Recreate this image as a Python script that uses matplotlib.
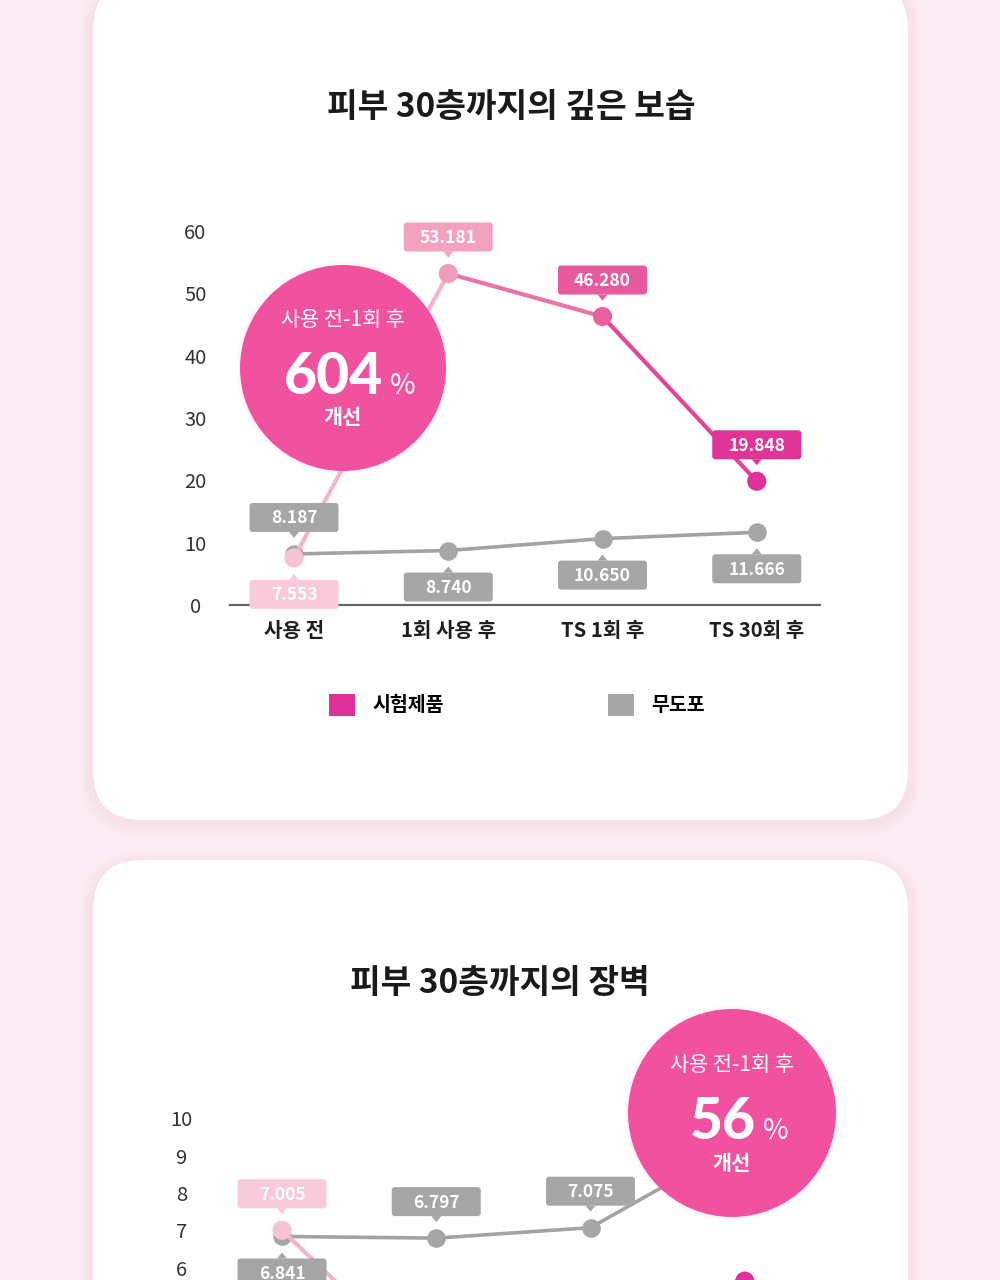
import numpy as np
import matplotlib.pyplot as plt
from matplotlib.patches import FancyBboxPatch, Circle, Polygon, Patch
from matplotlib.collections import LineCollection
from matplotlib.transforms import IdentityTransform

plt.rcParams['font.family'] = ['Noto Sans CJK KR', 'DejaVu Sans']

# data
categories      = ['사용 전', '1회 사용 후', 'TS 1회 후', 'TS 30회 후']
moist_product   = [7.553, 53.181, 46.280, 19.848]
moist_control   = [8.187, 8.740, 10.650, 11.666]
moist_yticks    = [0, 10, 20, 30, 40, 50, 60]
barrier_product = [7.005, 3.08, 4.2, 5.65]     # only first point fully visible
barrier_control = [6.841, 6.797, 7.075, 9.4]
barrier_yticks  = [0, 1, 2, 3, 4, 5, 6, 7, 8, 9, 10]
legend_labels   = ['시험제품', '무도포']

# label side: +1 above the point, -1 below
moist_prod_side   = [-1, 1, 1, 1]
moist_ctrl_side   = [1, -1, -1, -1]
barrier_prod_side = [1, -1, -1, -1]
barrier_ctrl_side = [-1, 1, 1, 1]

# styles
bg_color       = '#fcecf3'
point_colors   = ['#f6c4d4', '#ef9dbb', '#e8609f', '#e0309a']
box_colors     = ['#f9cada', '#f2a2bf', '#e75a9e', '#e03597']
segment_colors = ['#f3b4ca', '#ea74a8', '#e3449a']
gray           = '#a6a6a6'
badge_color    = '#f1529f'

W, H = 1000, 1280
fig = plt.figure(figsize=(W / 100, H / 100), dpi=100)
fig.patch.set_facecolor(bg_color)


def px_axes(left, top, right, bottom, z):
    return fig.add_axes([left / W, 1 - bottom / H, (right - left) / W, (bottom - top) / H], zorder=z)


bg = fig.add_axes([0, 0, 1, 1], zorder=0)
bg.set_xlim(0, W)
bg.set_ylim(H, 0)
bg.axis('off')

fg = fig.add_axes([0, 0, 1, 1], zorder=5)
fg.set_xlim(0, W)
fg.set_ylim(H, 0)
fg.axis('off')
fg.patch.set_alpha(0)

# cards with soft shadow
for top, bottom in [(-20, 820), (860, 1340)]:
    for k in range(6, 0, -1):
        bg.add_patch(FancyBboxPatch((93 - k * 2, top - k * 2 + 4), 815 + k * 4, bottom - top + k * 4,
                                    boxstyle='round,pad=0,rounding_size=%d' % (50 + k * 2),
                                    fc='#f3c9da', ec='none', alpha=0.05))
    bg.add_patch(FancyBboxPatch((93, top), 815, bottom - top,
                                boxstyle='round,pad=0,rounding_size=50', fc='white', ec='none'))


def callout(ax, x, y, text, fc, side):
    px, py = ax.transData.transform((x, y))
    w, h, gap = 89, 29, 22
    if side > 0:
        y0 = py + gap
        edge, tip = y0, y0 - 6
    else:
        y0 = py - gap - h
        edge, tip = y0 + h, y0 + h + 6
    idt = IdentityTransform()
    ax.add_patch(FancyBboxPatch((px - w / 2, y0), w, h, boxstyle='round,pad=0,rounding_size=3',
                                fc=fc, ec='none', transform=idt, clip_on=False, zorder=6))
    ax.add_patch(Polygon([(px - 5, edge), (px + 5, edge), (px, tip)], closed=True,
                         fc=fc, ec='none', transform=idt, clip_on=False, zorder=6))
    ax.text(px, y0 + h / 2 - 1, text, transform=idt, ha='center', va='center',
            color='white', fontsize=12.5, fontweight='bold', zorder=7)


def draw_chart(ax, product, control, yticks, prod_side, ctrl_side, pad):
    x = np.arange(len(categories))
    ax.set_xlim(-0.415, 3.41)
    ax.set_ylim(yticks[0], yticks[-1])
    ax.patch.set_alpha(0)

    ax.plot(x, control, color='#a3a3a3', lw=2.6, zorder=3, clip_on=False)
    ax.scatter(x, control, s=180, color=gray, zorder=3, clip_on=False, linewidths=0)

    pts = np.column_stack([x, product])
    segs = [pts[i:i + 2] for i in range(len(pts) - 1)]
    ax.add_collection(LineCollection(segs, colors=segment_colors, linewidths=3,
                                     zorder=4, clip_on=False, capstyle='round'))
    ax.scatter(x, product, s=190, c=point_colors, zorder=5, clip_on=False, linewidths=0)

    for i in x:
        callout(ax, i, control[i], '%.3f' % control[i], gray, ctrl_side[i])
        callout(ax, i, product[i], '%.3f' % product[i], box_colors[i], prod_side[i])

    ax.set_yticks(yticks)
    ax.set_yticklabels([str(t) for t in yticks], ha='center', fontsize=14.5, color='#333333')
    ax.set_xticks(x)
    ax.set_xticklabels(categories, fontsize=14.5, color='#1e1e1e', fontweight='bold')
    ax.tick_params(axis='y', length=0, pad=pad)
    ax.tick_params(axis='x', length=0, pad=11)
    for s in ['top', 'right', 'left']:
        ax.spines[s].set_visible(False)
    ax.spines['bottom'].set_color('#666666')
    ax.spines['bottom'].set_linewidth(1.6)
    ax.spines['bottom'].set_zorder(2)


# chart 1: 깊은 보습
ax1 = px_axes(230, 231, 820, 605, 2)
draw_chart(ax1, moist_product, moist_control, moist_yticks, moist_prod_side, moist_ctrl_side, 25)

# chart 2: 장벽
ax2 = px_axes(218, 1118, 808, 1493, 2)
draw_chart(ax2, barrier_product, barrier_control, barrier_yticks, barrier_prod_side, barrier_ctrl_side, 26.5)

# titles
fg.text(511, 107, '피부 30층까지의 깊은 보습', ha='center', va='center', fontsize=24,
        fontweight='bold', color='#1a1a1a')
fg.text(500, 983, '피부 30층까지의 장벽', ha='center', va='center', fontsize=24,
        fontweight='bold', color='#1a1a1a')

# legend
handles = [Patch(fc='#e0309a', ec='none'), Patch(fc=gray, ec='none')]
ax1.legend(handles, legend_labels, loc='center', bbox_to_anchor=(517 / W, 1 - 705 / H),
           bbox_transform=fig.transFigure, ncol=2, frameon=False,
           handlelength=1.35, handleheight=1.35, handletextpad=0.9, columnspacing=8.4,
           prop={'weight': 'bold', 'size': 14})


def badge(cx, cy, big, r):
    fg.add_patch(Circle((cx, cy), r + 3, fc=badge_color, ec='none', alpha=0.05))
    fg.add_patch(Circle((cx, cy), r, fc=badge_color, ec='none'))
    fg.text(cx, cy - 48, '사용 전-1회 후', ha='center', va='center', color='white', fontsize=15)
    right = cx + (40 if len(big) == 3 else 24)
    fg.text(right, cy + 26, big, ha='right', va='baseline', color='white', fontsize=41,
            fontweight='black', family=['Lato', 'Noto Sans CJK KR'])
    fg.text(right + 7, cy + 26, '%', ha='left', va='baseline', color='white', fontsize=20)
    fg.text(cx, cy + 50, '개선', ha='center', va='center', color='white', fontsize=15,
            fontweight='bold')


badge(343, 368, '604', 103)
badge(732, 1113, '56', 104)

fig.savefig('out.png', dpi=100, facecolor=fig.get_facecolor())
